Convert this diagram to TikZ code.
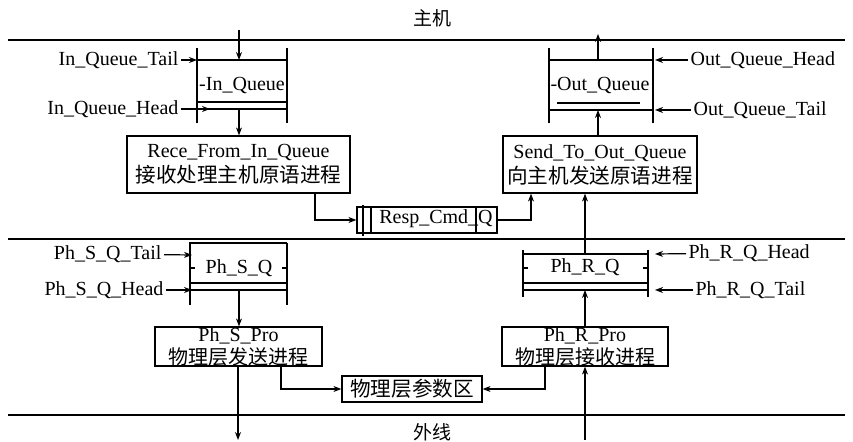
\documentclass[tikz,border=0pt]{standalone}
\usepackage{fontspec}
\setmainfont{Liberation Serif}
\newfontfamily\cjk{Noto Sans CJK SC}
\usetikzlibrary{arrows.meta}
\begin{document}
\begin{tikzpicture}[x=0.5pt,y=-0.5pt,line width=0.6pt,
  >={Stealth[length=4pt,width=3pt]},
  proc/.style={draw,rectangle,align=center,inner sep=0pt,font=\fontsize{10}{11.5}\selectfont},
  lbl/.style={inner sep=1pt,font=\fontsize{10}{11}\selectfont},
  qtxt/.style={inner sep=0pt,font=\fontsize{10}{11}\selectfont},
  sep/.style={line width=0.8pt},
  title/.style={inner sep=1pt,font=\cjk\fontsize{9.5}{11}\selectfont}]
\useasboundingbox (0,0) rectangle (853,442);
% separators
\draw[sep] (8,40) -- (845,40);
\draw[sep] (8,239) -- (845,239);
\draw[sep] (8,415) -- (845,415);
\node[title] (host) at (432,18) {主机};
\node[title] (ext) at (432,432) {外线};
% process boxes
\node[proc,minimum width=111.5pt,minimum height=28.5pt] (rece) at (238.5,164.5)
  {Rece\_From\_In\_Queue\\[1pt]{\cjk\fontsize{10.3}{11}\selectfont 接收处理主机原语进程}};
\node[proc,minimum width=97pt,minimum height=28.5pt] (send) at (600,164.5)
  {Send\_To\_Out\_Queue\\[1pt]{\cjk\fontsize{10.3}{11}\selectfont 向主机发送原语进程}};
\node[proc,minimum width=83.5pt,minimum height=19.5pt] (sp) at (238.5,346.5)
  {Ph\_S\_Pro\\{\cjk\fontsize{10}{11}\selectfont 物理层发送进程}};
\node[proc,minimum width=83pt,minimum height=19.5pt] (rp) at (585,346.5)
  {Ph\_R\_Pro\\{\cjk\fontsize{10}{11}\selectfont 物理层接收进程}};
\node[proc,minimum width=70pt,minimum height=13pt,font=\cjk\fontsize{10.3}{11}\selectfont] (par) at (412,389) {物理层参数区};
\node[draw,rectangle,minimum width=70pt,minimum height=13pt,inner sep=0pt] (resp) at (427,220) {};
\node[qtxt] (resptxt) at (436,219) {Resp\_Cmd\_Q};
\draw (363,205) -- (363,236);
\draw (371,207) -- (371,233);
\draw (476,207) -- (476,233);
% In_Queue
\draw (197,48) -- (197,123);
\draw (287,48) -- (287,123);
\draw (197,60) -- (287,60);
\draw (197,102) -- (287,102);
\draw[line width=0.8pt] (197,109) -- (287,109);
\node[qtxt] (inq) at (242,86) {-In\_Queue};
\coordinate (inqtop) at (239,60);
\coordinate (inqbot) at (239,109);
\coordinate (hostin) at (239,30);
\node[lbl,anchor=east] (inqt) at (181,60) {In\_Queue\_Tail};
\node[lbl,anchor=east] (inqh) at (181,109) {In\_Queue\_Head};
\coordinate (inqtend) at (197,60);
\coordinate (inqhend) at (210,109);
% Out_Queue
\draw (549,48) -- (549,123);
\draw (653,48) -- (653,123);
\draw (549,60) -- (653,60);
\draw (557,103) -- (640,103);
\draw[line width=0.8pt] (549,110) -- (653,110);
\node[qtxt] (outq) at (600,86) {-Out\_Queue};
\coordinate (outqtop) at (598,60);
\coordinate (outqbot) at (598,110);
\coordinate (hostout) at (598,34);
\node[lbl,anchor=west] (outqh) at (688,60) {Out\_Queue\_Head};
\node[lbl,anchor=west] (outqt) at (691,110) {Out\_Queue\_Tail};
\coordinate (outqhend) at (655,60);
\coordinate (outqtend) at (655,110);
% Ph_S_Q
\draw (190,242) -- (190,305);
\draw (287,243) -- (287,305);
\draw (190,243) -- (287,243);
\draw (190,283) -- (287,283);
\draw[line width=0.8pt] (190,290) -- (287,290);
\draw (190,268) -- (195,268);
\draw (282,268) -- (287,268);
\node[qtxt] (psq) at (239,268) {Ph\_S\_Q};
\coordinate (psqbot) at (239,290);
\node[lbl,anchor=east] (psqt) at (164,254) {Ph\_S\_Q\_Tail};
\node[lbl,anchor=east] (psqh) at (166,290) {Ph\_S\_Q\_Head};
\coordinate (psqtend) at (192,255);
\coordinate (psqhend) at (192,290);
% Ph_R_Q
\draw (523,250) -- (523,297);
\draw (648,250) -- (648,297);
\draw (523,254) -- (648,254);
\draw (523,283) -- (648,283);
\draw[line width=0.8pt] (523,290) -- (648,290);
\draw (523,268) -- (528,268);
\draw (643,268) -- (648,268);
\node[qtxt] (prq) at (585,267) {Ph\_R\_Q};
\coordinate (prqtop) at (585,254);
\coordinate (prqbot) at (585,290);
\node[lbl,anchor=west] (prqh) at (686,253) {Ph\_R\_Q\_Head};
\node[lbl,anchor=west] (prqt) at (693,290) {Ph\_R\_Q\_Tail};
\coordinate (prqhend) at (655,254);
\coordinate (prqtend) at (655,290);
% external line ends
\coordinate (extout) at (238,440);
\coordinate (extin) at (585,440);
% connectors
\draw[->] (hostin) -- (inqtop);
\draw[->] (inqbot) -- (rece.north -| inqbot);
\draw[->] (inqt) -- (inqtend);
\draw[->] (inqh) -- (inqhend);
\draw[->] (outqtop) -- (hostout);
\draw[->] (send.north -| outqbot) -- (outqbot);
\draw[->] (outqh) -- (outqhend);
\draw[->] (outqt) -- (outqtend);
\draw[->] (rece.south -| 315,0) |- (resp.west);
\draw[->] (resp.east) -| (send.south -| 531,0);
\draw[->] (prqtop) -- (send.south -| prqtop);
\draw[->] (psqt) -- (psqtend);
\draw[->] (psqh) -- (psqhend);
\draw[->] (prqh) -- (prqhend);
\draw[->] (prqt) -- (prqtend);
\draw[->] (psqbot) -- (sp.north -| psqbot);
\draw[->] (sp.south -| extout) -- (extout);
\draw[->] (sp.south -| 281,0) |- (par.west);
\draw[->] (rp.south -| 545,0) |- (par.east);
\draw[->] (extin) -- (rp.south -| extin);
\draw[->] (rp.north -| prqbot) -- (prqbot);
\end{tikzpicture}
\end{document}
